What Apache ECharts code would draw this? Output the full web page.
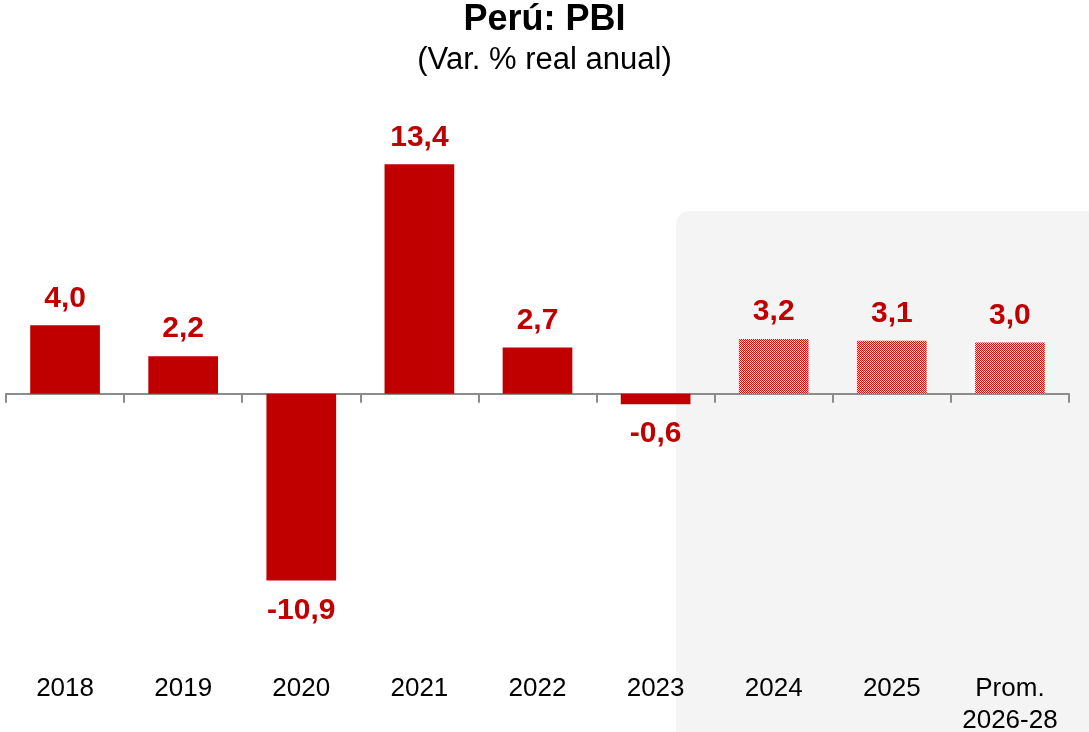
<!DOCTYPE html>
<html>
<head>
<meta charset="utf-8">
<script src="https://cdn.jsdelivr.net/npm/echarts@6/dist/echarts.min.js"></script>
<style>
  html, body { margin: 0; padding: 0; background: #fff; }
  #chart { width: 1089px; height: 732px; }
</style>
</head>
<body>
<div id="chart"></div>
<script>
// datos
const categories = ['2018', '2019', '2020', '2021', '2022', '2023', '2024', '2025', 'Prom.\n2026-28']
const values = [4.0, 2.2, -10.9, 13.4, 2.7, -0.6, 3.2, 3.1, 3.0]
const projected = [false, false, false, false, false, false, true, true, true]

const RED = '#c00000'

// patron cuadriculado para proyecciones
const makePattern = () => {
  const c = document.createElement('canvas')
  c.width = 2
  c.height = 2
  const ctx = c.getContext('2d')
  ctx.fillStyle = '#f6c8c8'
  ctx.fillRect(0, 0, 2, 2)
  ctx.fillStyle = '#d01010'
  ctx.fillRect(0, 0, 1, 1)
  ctx.fillRect(1, 1, 1, 1)
  return c
}
const pattern = { image: makePattern(), repeat: 'repeat' }

const chart = echarts.init(document.getElementById('chart'))
const fmt = v => v.toFixed(1).replace('.', ',')

chart.setOption({
  animation: false,
  textStyle: { fontFamily: 'Liberation Sans, Arial, sans-serif' },
  title: {
    text: 'Perú: PBI',
    subtext: '(Var. % real anual)',
    left: 'center',
    top: -3,
    itemGap: 7,
    textStyle: { fontSize: 36, fontWeight: 'bold', color: '#000' },
    subtextStyle: { fontSize: 31, color: '#000' }
  },
  graphic: [{
    type: 'rect',
    z: -10,
    shape: { x: 676, y: 211, width: 440, height: 560, r: 14 },
    style: { fill: '#f4f4f4' }
  }],
  grid: { left: 6, right: 20, top: 154, bottom: 64, containLabel: false, outerBoundsMode: 'none' },
  xAxis: [{
    type: 'category',
    data: categories,
    axisLine: { onZero: true, lineStyle: { color: '#8c8c8c', width: 2 } },
    axisTick: { show: true, length: 9, lineStyle: { color: '#8c8c8c', width: 2 } },
    axisLabel: { show: false }
  }, {
    type: 'category',
    data: categories,
    position: 'bottom',
    axisLine: { show: false, onZero: false },
    axisTick: { show: false },
    axisLabel: { interval: 0, color: '#000', fontSize: 26, lineHeight: 32, margin: 5, verticalAlign: 'top' }
  }],
  yAxis: {
    type: 'value',
    min: -16,
    max: 14,
    show: false,
    splitLine: { show: false }
  },
  series: [{
    type: 'bar',
    barWidth: '59%',
    data: values.map((v, i) => ({
      value: v,
      itemStyle: { color: projected[i] ? pattern : RED },
      label: v < 0 ? { position: 'bottom', distance: 15 } : { position: 'top', distance: 12 }
    })),
    label: {
      show: true,
      color: RED,
      fontSize: 30,
      fontWeight: 'bold',
      formatter: p => fmt(p.value)
    }
  }]
})
</script>
</body>
</html>
